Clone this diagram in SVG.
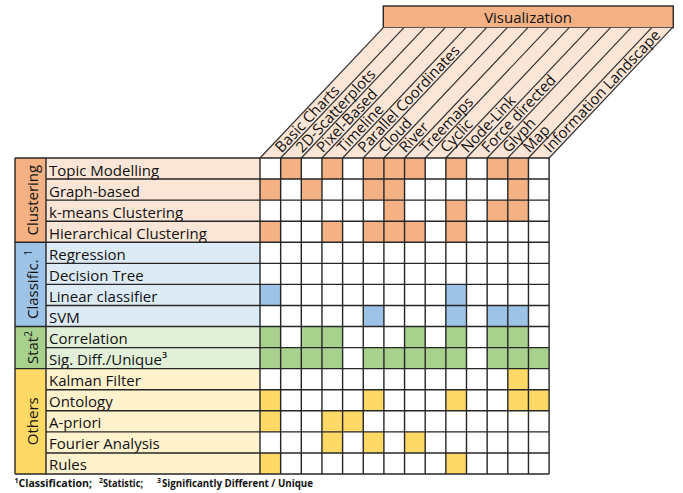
<svg xmlns="http://www.w3.org/2000/svg" width="683" height="493" viewBox="0 0 683 493">
<style>
text{font-family:"Open Sans","Noto Sans",sans-serif;fill:#111}
.lbl{font-size:15px}
.hdr{font-size:15px}
.cat{font-size:15px}
.fn{font-size:10.5px;font-weight:700}
.o{fill:#F4B183}.ol{fill:#FBE5D6}
.b{fill:#9DC3E6}.bl{fill:#DDEBF7}
.g{fill:#A9D18E}.gl{fill:#E2F0D9}
.y{fill:#FFD966}.yl{fill:#FFF2CC}
.ln{stroke:#262626;stroke-width:1.4;fill:none}
.sl{stroke:#333;stroke-width:1.2;fill:none}
</style>
<defs>
<rect id="c" width="20.65" height="21.07"/>
</defs>
<rect width="683" height="493" fill="#fff"/>

<!-- Header -->
<g id="header">
<rect x="383.3" y="6" width="290" height="21.7" class="o"/>
<rect x="383.3" y="6" width="290" height="21.7" class="ln" stroke-width="1.2"/>
<text x="528" y="22.7" class="hdr" text-anchor="middle">Visualization</text>
<polygon points="260,158 549.1,158 672.4,27.7 383.3,27.7" class="ol"/>
<g class="sl">
<line x1="260" y1="158" x2="383.3" y2="27.7"/>
<line x1="280.65" y1="158" x2="403.95" y2="27.7"/>
<line x1="301.3" y1="158" x2="424.6" y2="27.7"/>
<line x1="321.95" y1="158" x2="445.25" y2="27.7"/>
<line x1="342.6" y1="158" x2="465.9" y2="27.7"/>
<line x1="363.25" y1="158" x2="486.55" y2="27.7"/>
<line x1="383.9" y1="158" x2="507.2" y2="27.7"/>
<line x1="404.55" y1="158" x2="527.85" y2="27.7"/>
<line x1="425.2" y1="158" x2="548.5" y2="27.7"/>
<line x1="445.85" y1="158" x2="569.15" y2="27.7"/>
<line x1="466.5" y1="158" x2="589.8" y2="27.7"/>
<line x1="487.15" y1="158" x2="610.45" y2="27.7"/>
<line x1="507.8" y1="158" x2="631.1" y2="27.7"/>
<line x1="528.45" y1="158" x2="651.75" y2="27.7"/>
<line x1="549.1" y1="158" x2="672.4" y2="27.7"/>
</g>
<g class="hdr">
<text transform="translate(281.58,153.4) rotate(-46.58)">Basic Charts</text>
<text transform="translate(302.23,153.4) rotate(-46.58)">2D-Scatterplots</text>
<text transform="translate(322.88,153.4) rotate(-46.58)">Pixel-Based</text>
<text transform="translate(343.53,153.4) rotate(-46.58)">Timeline</text>
<text transform="translate(364.18,153.4) rotate(-46.58)">Parallel Coordinates</text>
<text transform="translate(384.83,153.4) rotate(-46.58)">Cloud</text>
<text transform="translate(405.48,153.4) rotate(-46.58)">River</text>
<text transform="translate(426.13,153.4) rotate(-46.58)">Treemaps</text>
<text transform="translate(446.78,153.4) rotate(-46.58)">Cyclic</text>
<text transform="translate(467.43,153.4) rotate(-46.58)">Node-Link</text>
<text transform="translate(488.08,153.4) rotate(-46.58)">Force directed</text>
<text transform="translate(508.73,153.4) rotate(-46.58)">Glyph</text>
<text transform="translate(529.38,153.4) rotate(-46.58)">Map</text>
<text transform="translate(550.03,153.4) rotate(-46.58)">Information Landscape</text>
</g>
</g>

<!-- Category column and label backgrounds -->
<g id="clustering">
<rect x="15" y="158" width="31" height="84.27" class="o"/>
<rect x="46" y="158" width="214" height="84.27" class="ol"/>
<text class="cat" transform="translate(37.5,200.1) rotate(-90)" text-anchor="middle">Clustering</text>
</g>
<g id="classification">
<rect x="15" y="242.27" width="31" height="84.26" class="b"/>
<rect x="46" y="242.27" width="214" height="84.26" class="bl"/>
<text class="cat" transform="translate(37.5,284.4) rotate(-90)" text-anchor="middle">Classific. <tspan font-size="10" dy="-6">1</tspan></text>
</g>
<g id="statistic">
<rect x="15" y="326.53" width="31" height="42.14" class="g"/>
<rect x="46" y="326.53" width="214" height="42.14" class="gl"/>
<text class="cat" transform="translate(37.5,347.6) rotate(-90)" text-anchor="middle">Stat<tspan font-size="10" dy="-6">2</tspan></text>
</g>
<g id="others">
<rect x="15" y="368.67" width="31" height="105.33" class="y"/>
<rect x="46" y="368.67" width="214" height="105.33" class="yl"/>
<text class="cat" transform="translate(37.5,421.3) rotate(-90)" text-anchor="middle">Others</text>
</g>

<!-- Row labels -->
<g id="row-labels" class="lbl">
<text x="49" y="175.5">Topic Modelling</text>
<text x="49" y="196.6">Graph-based</text>
<text x="49" y="217.6">k-means Clustering</text>
<text x="49" y="238.7">Hierarchical Clustering</text>
<text x="49" y="259.8">Regression</text>
<text x="49" y="280.8">Decision Tree</text>
<text x="49" y="301.9">Linear classifier</text>
<text x="49" y="323">SVM</text>
<text x="49" y="344">Correlation</text>
<text x="49" y="365.1">Sig. Diff./Unique<tspan font-size="9" font-weight="600" dy="-7">3</tspan></text>
<text x="49" y="386.2">Kalman Filter</text>
<text x="49" y="407.2">Ontology</text>
<text x="49" y="428.3">A-priori</text>
<text x="49" y="449.4">Fourier Analysis</text>
<text x="49" y="470.4">Rules</text>
</g>

<!-- Matrix cells -->
<g id="matrix">
<rect x="260" y="158" width="289.1" height="316" fill="#fff"/>
<g class="o">
<use href="#c" x="280.65" y="158"/><use href="#c" x="321.95" y="158"/><use href="#c" x="363.25" y="158"/><use href="#c" x="383.9" y="158"/><use href="#c" x="404.55" y="158"/><use href="#c" x="445.85" y="158"/><use href="#c" x="487.15" y="158"/><use href="#c" x="507.8" y="158"/>
<use href="#c" x="260" y="179.07"/><use href="#c" x="301.3" y="179.07"/><use href="#c" x="363.25" y="179.07"/><use href="#c" x="383.9" y="179.07"/><use href="#c" x="507.8" y="179.07"/>
<use href="#c" x="383.9" y="200.13"/><use href="#c" x="445.85" y="200.13"/><use href="#c" x="487.15" y="200.13"/><use href="#c" x="507.8" y="200.13"/>
<use href="#c" x="260" y="221.2"/><use href="#c" x="321.95" y="221.2"/><use href="#c" x="363.25" y="221.2"/><use href="#c" x="383.9" y="221.2"/><use href="#c" x="404.55" y="221.2"/><use href="#c" x="445.85" y="221.2"/>
</g>
<g class="b">
<use href="#c" x="260" y="284.4"/><use href="#c" x="445.85" y="284.4"/>
<use href="#c" x="363.25" y="305.47"/><use href="#c" x="445.85" y="305.47"/><use href="#c" x="487.15" y="305.47"/><use href="#c" x="507.8" y="305.47"/>
</g>
<g class="g">
<use href="#c" x="260" y="326.53"/><use href="#c" x="301.3" y="326.53"/><use href="#c" x="321.95" y="326.53"/><use href="#c" x="404.55" y="326.53"/><use href="#c" x="445.85" y="326.53"/><use href="#c" x="487.15" y="326.53"/><use href="#c" x="507.8" y="326.53"/>
<use href="#c" x="260" y="347.6"/><use href="#c" x="280.65" y="347.6"/><use href="#c" x="301.3" y="347.6"/><use href="#c" x="321.95" y="347.6"/><use href="#c" x="363.25" y="347.6"/><use href="#c" x="383.9" y="347.6"/><use href="#c" x="404.55" y="347.6"/><use href="#c" x="425.2" y="347.6"/><use href="#c" x="445.85" y="347.6"/><use href="#c" x="487.15" y="347.6"/><use href="#c" x="507.8" y="347.6"/><use href="#c" x="528.45" y="347.6"/>
</g>
<g class="y">
<use href="#c" x="507.8" y="368.67"/>
<use href="#c" x="260" y="389.73"/><use href="#c" x="363.25" y="389.73"/><use href="#c" x="445.85" y="389.73"/><use href="#c" x="507.8" y="389.73"/><use href="#c" x="528.45" y="389.73"/>
<use href="#c" x="260" y="410.8"/><use href="#c" x="321.95" y="410.8"/><use href="#c" x="342.6" y="410.8"/>
<use href="#c" x="321.95" y="431.87"/><use href="#c" x="363.25" y="431.87"/><use href="#c" x="404.55" y="431.87"/>
<use href="#c" x="260" y="452.93"/><use href="#c" x="445.85" y="452.93"/>
</g>
</g>

<!-- Grid lines -->
<g id="grid" class="ln">
<line x1="15" y1="158" x2="549.1" y2="158"/>
<line x1="46" y1="179.07" x2="549.1" y2="179.07"/>
<line x1="46" y1="200.13" x2="549.1" y2="200.13"/>
<line x1="46" y1="221.2" x2="549.1" y2="221.2"/>
<line x1="15" y1="242.27" x2="549.1" y2="242.27"/>
<line x1="46" y1="263.33" x2="549.1" y2="263.33"/>
<line x1="46" y1="284.4" x2="549.1" y2="284.4"/>
<line x1="46" y1="305.47" x2="549.1" y2="305.47"/>
<line x1="15" y1="326.53" x2="549.1" y2="326.53"/>
<line x1="46" y1="347.6" x2="549.1" y2="347.6"/>
<line x1="15" y1="368.67" x2="549.1" y2="368.67"/>
<line x1="46" y1="389.73" x2="549.1" y2="389.73"/>
<line x1="46" y1="410.8" x2="549.1" y2="410.8"/>
<line x1="46" y1="431.87" x2="549.1" y2="431.87"/>
<line x1="46" y1="452.93" x2="549.1" y2="452.93"/>
<line x1="15" y1="474" x2="549.1" y2="474"/>
<line x1="15" y1="158" x2="15" y2="474"/>
<line x1="46" y1="158" x2="46" y2="474"/>
<line x1="260" y1="158" x2="260" y2="474"/>
<line x1="280.65" y1="158" x2="280.65" y2="474"/>
<line x1="301.3" y1="158" x2="301.3" y2="474"/>
<line x1="321.95" y1="158" x2="321.95" y2="474"/>
<line x1="342.6" y1="158" x2="342.6" y2="474"/>
<line x1="363.25" y1="158" x2="363.25" y2="474"/>
<line x1="383.9" y1="158" x2="383.9" y2="474"/>
<line x1="404.55" y1="158" x2="404.55" y2="474"/>
<line x1="425.2" y1="158" x2="425.2" y2="474"/>
<line x1="445.85" y1="158" x2="445.85" y2="474"/>
<line x1="466.5" y1="158" x2="466.5" y2="474"/>
<line x1="487.15" y1="158" x2="487.15" y2="474"/>
<line x1="507.8" y1="158" x2="507.8" y2="474"/>
<line x1="528.45" y1="158" x2="528.45" y2="474"/>
<line x1="549.1" y1="158" x2="549.1" y2="474"/>
</g>

<!-- Footnote -->
<g id="footnote" class="fn">
<text x="14.5" y="483" font-size="7">1</text>
<text x="18.5" y="487" textLength="73.5" lengthAdjust="spacingAndGlyphs">Classification;</text>
<text x="99" y="483" font-size="7">2</text>
<text x="103" y="487" textLength="40" lengthAdjust="spacingAndGlyphs">Statistic;</text>
<text x="157" y="483" font-size="7">3</text>
<text x="162" y="487" textLength="151" lengthAdjust="spacingAndGlyphs">Significantly Different / Unique</text>
</g>
</svg>
